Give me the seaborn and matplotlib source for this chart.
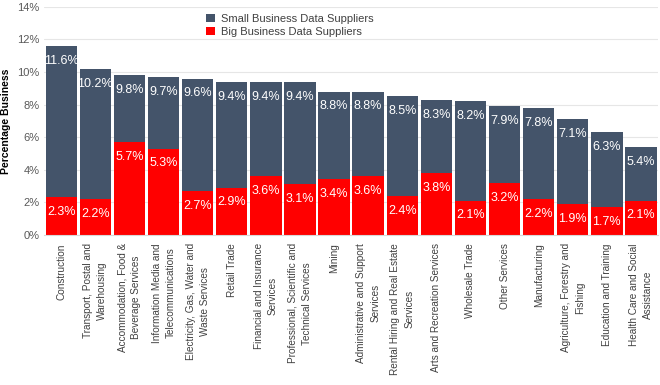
import matplotlib
matplotlib.use("Agg")
import matplotlib.pyplot as plt
import pandas as pd
import seaborn as sns
from matplotlib.ticker import FuncFormatter

#%% Dados
setores = [
    "Construction",
    "Transport, Postal and\nWarehousing",
    "Accommodation, Food &\nBeverage Services",
    "Information Media and\nTelecommunications",
    "Electricity, Gas, Water and\nWaste Services",
    "Retail Trade",
    "Financial and Insurance\nServices",
    "Professional, Scientific and\nTechnical Services",
    "Mining",
    "Administrative and Support\nServices",
    "Rental Hiring and Real Estate\nServices",
    "Arts and Recreation Services",
    "Wholesale Trade",
    "Other Services",
    "Manufacturing",
    "Agriculture, Forestry and\nFishing",
    "Education and Training",
    "Health Care and Social\nAssistance",
]
pequenas = [11.6, 10.2, 9.8, 9.7, 9.6, 9.4, 9.4, 9.4, 8.8, 8.8, 8.5, 8.3, 8.2, 7.9, 7.8, 7.1, 6.3, 5.4]
grandes = [2.3, 2.2, 5.7, 5.3, 2.7, 2.9, 3.6, 3.1, 3.4, 3.6, 2.4, 3.8, 2.1, 3.2, 2.2, 1.9, 1.7, 2.1]

df = pd.DataFrame({"Setor": setores, "Pequenas": pequenas, "Grandes": grandes})

#%% Grafico
sns.set_style("white")
plt.rcParams["font.family"] = ["Liberation Sans", "DejaVu Sans"]

fig = plt.figure(figsize=(6.6, 3.85), dpi=100)
ax = fig.add_axes([0.067, 0.39, 0.93, 0.592])

cor_peq = "#44546A"
cor_gde = "#FF0000"

sns.barplot(data=df, x="Setor", y="Pequenas", color=cor_peq, saturation=1,
            width=0.92, linewidth=0, label="Small Business Data Suppliers", ax=ax)
sns.barplot(data=df, x="Setor", y="Grandes", color=cor_gde, saturation=1,
            width=0.92, linewidth=0, label="Big Business Data Suppliers", ax=ax)

for cont in ax.containers:
    ax.bar_label(cont, fmt="%.1f%%", padding=-15, color="white", fontsize=9)

ax.set_ylim(0, 14)
ax.set_yticks(range(0, 15, 2))
ax.yaxis.set_major_formatter(FuncFormatter(lambda v, p: f"{v:.0f}%"))
ax.set_xlim(-0.5, len(setores) - 0.5)
ax.grid(axis="y", color="#E6E6E6", linewidth=0.8)
ax.set_axisbelow(True)
for s in ["top", "right", "left"]:
    ax.spines[s].set_visible(False)
ax.spines["bottom"].set_color("#D9D9D9")

ax.set_xlabel("")
ax.set_ylabel("Percentage Business", fontsize=7.5, fontweight="bold", color="black")
ax.tick_params(axis="y", labelsize=8, colors="#595959", length=0)
ax.tick_params(axis="x", length=0, pad=6)
for lbl in ax.get_xticklabels():
    lbl.set_rotation(90)
    lbl.set_fontsize(7.2)
    lbl.set_color("#404040")
    lbl.set_ha("center")
    lbl.set_va("top")
    lbl.set_multialignment("center")
    lbl.set_linespacing(1.5)

ax.legend(loc="upper left", bbox_to_anchor=(0.248, 1.015), frameon=False,
          fontsize=8, handlelength=0.8, handleheight=0.8, handletextpad=0.5,
          labelspacing=0.3, labelcolor="#404040")

fig.savefig("out.png", dpi=100)
